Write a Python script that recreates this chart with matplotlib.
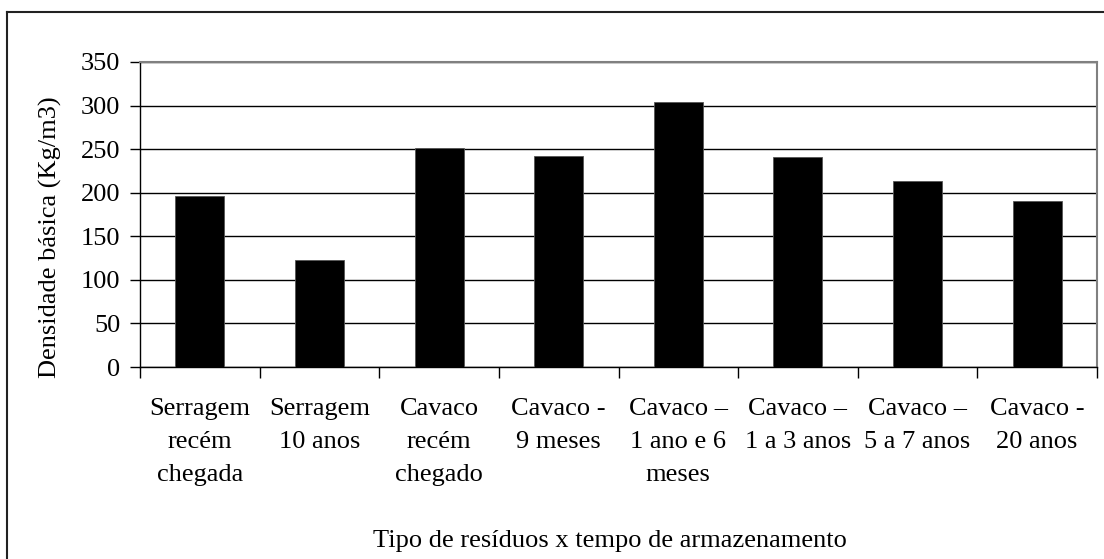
import matplotlib
matplotlib.use('Agg')
import matplotlib.pyplot as plt
from matplotlib.lines import Line2D

plt.rcParams['font.family'] = 'serif'
plt.rcParams['font.serif'] = ['Liberation Serif', 'DejaVu Serif']

categorias = ['Serragem\nrecém\nchegada', 'Serragem\n10 anos', 'Cavaco\nrecém\nchegado',
              'Cavaco -\n9 meses', 'Cavaco –\n1 ano e 6\nmeses', 'Cavaco –\n1 a 3 anos',
              'Cavaco –\n5 a 7 anos', 'Cavaco -\n20 anos']
densidade = [196, 123, 251, 242, 304, 241, 214, 190]
yticks = [0, 50, 100, 150, 200, 250, 300, 350]

W, H = 1104, 559
fig = plt.figure(figsize=(W / 100, H / 100), dpi=100)
ax = fig.add_axes([140 / W, 1 - 367 / H, (1097 - 140) / W, (367 - 62) / H])

x = list(range(len(categorias)))
ax.bar(x, densidade, width=0.41, color='black', edgecolor='#555555', linewidth=0.6, zorder=3)

ax.set_xlim(-0.5, len(categorias) - 0.5)
ax.set_ylim(0, 350)
ax.set_yticks(yticks)
ax.yaxis.grid(True, color='black', linewidth=1.0, zorder=0)

ax.set_xticks(x)
ax.set_xticklabels(categorias, fontsize=19, linespacing=1.65)
ax.tick_params(axis='x', length=0, pad=22)
ax.set_xticks([i - 0.5 for i in range(len(categorias) + 1)], minor=True)
ax.tick_params(axis='x', which='minor', length=8, width=1, direction='out')
ax.tick_params(axis='y', labelsize=19, length=7, width=1, direction='out', pad=7)

for s in ['top', 'right']:
    ax.spines[s].set_color('#808080')
    ax.spines[s].set_linewidth(1.5)
for s in ['left', 'bottom']:
    ax.spines[s].set_color('black')
    ax.spines[s].set_linewidth(1.0)

fig.text(50 / W, 1 - 237 / H, 'Densidade básica (Kg/m3)', fontsize=19,
         rotation=90, ha='center', va='center')
fig.text(610 / W, 1 - 541 / H, 'Tipo de resíduos x tempo de armazenamento',
         fontsize=19, ha='center', va='center')

# moldura externa
fig.add_artist(Line2D([7 / W, 7 / W], [0, 1 - 12 / H], transform=fig.transFigure,
                      color='#222222', linewidth=1.5))
fig.add_artist(Line2D([7 / W, 1], [1 - 12 / H, 1 - 12 / H], transform=fig.transFigure,
                      color='#222222', linewidth=1.5))

fig.savefig('out.png', dpi=100)
